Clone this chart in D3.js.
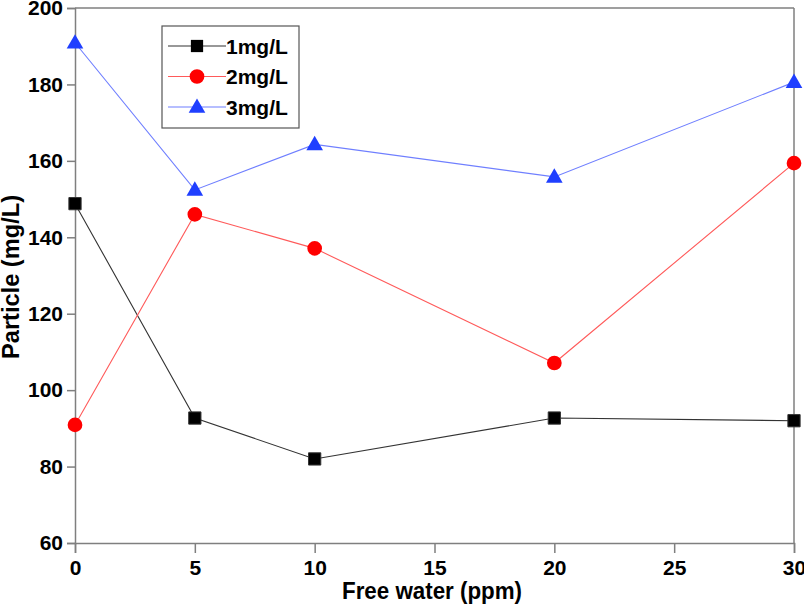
<!DOCTYPE html>
<html><head><meta charset="utf-8">
<script src="https://cdn.jsdelivr.net/npm/d3@7"></script>
<style>body{margin:0;background:#fff}</style>
</head><body>
<svg id="c" width="804" height="608"></svg>
<script>
const xValues = [0, 5, 10, 20, 30];
const series1 = [148.8, 92.7, 82.0, 92.7, 92.0];
const series2 = [90.9, 146.0, 137.1, 107.1, 159.4];
const series3 = [190.9, 152.4, 164.3, 155.8, 180.6];
const seriesNames = ["1mg/L", "2mg/L", "3mg/L"];
const xTicks = [0, 5, 10, 15, 20, 25, 30];
const yTicks = [60, 80, 100, 120, 140, 160, 180, 200];

const svg = d3.select("#c");
const L = 75, R = 794, T = 8, B = 543;
const x = d3.scaleLinear().domain([0, 30]).range([L, R]);
const y = d3.scaleLinear().domain([60, 200]).range([B, T]);
const font = "'Liberation Sans', Arial, sans-serif";
const frame = "#7f7f7f";

// axes
const xa = svg.append("g").attr("transform", `translate(0,${B})`)
  .call(d3.axisBottom(x).tickValues(xTicks).tickSize(10).tickPadding(7).tickFormat(d3.format("d")));
const ya = svg.append("g").attr("transform", `translate(${L},0)`)
  .call(d3.axisLeft(y).tickValues(yTicks).tickSize(8).tickPadding(4).tickFormat(d3.format("d")));
[xa, ya].forEach(a => {
  a.select(".domain").attr("stroke", frame).attr("stroke-width", 1.5);
  a.selectAll(".tick line").attr("stroke", frame).attr("stroke-width", 1.5);
  a.selectAll("text").attr("font-family", font).attr("font-weight", "bold")
    .attr("font-size", 21).attr("fill", "#000");
});
// top & right frame
svg.append("line").attr("x1", L).attr("x2", R).attr("y1", T).attr("y2", T).attr("stroke", frame).attr("stroke-width", 1.5);
svg.append("line").attr("x1", R).attr("x2", R).attr("y1", T).attr("y2", B).attr("stroke", frame).attr("stroke-width", 1.5);

// titles
svg.append("text").attr("x", 432).attr("y", 599).attr("text-anchor", "middle")
  .attr("font-family", font).attr("font-weight", "bold").attr("font-size", 23)
  .attr("textLength", 180).attr("lengthAdjust", "spacingAndGlyphs").text("Free water (ppm)");
svg.append("text").attr("transform", `translate(19,277) rotate(-90)`).attr("text-anchor", "middle")
  .attr("font-family", font).attr("font-weight", "bold").attr("font-size", 23)
  .attr("textLength", 164).attr("lengthAdjust", "spacingAndGlyphs").text("Particle (mg/L)");

const styles = [
  {data: series1, line: "#333333", fill: "#000000", sym: d3.symbolSquare, size: 150},
  {data: series2, line: "#ff5a5a", fill: "#ff0000", sym: d3.symbolCircle, size: 170},
  {data: series3, line: "#6f7fff", fill: "#1f3fff", sym: d3.symbolTriangle, size: 120}
];
const line = d3.line().x((d, i) => x(xValues[i])).y(d => y(d));
styles.forEach(s => {
  svg.append("path").datum(s.data).attr("d", line).attr("fill", "none")
    .attr("stroke", s.line).attr("stroke-width", 1.1);
  svg.selectAll(null).data(s.data).enter().append("path")
    .attr("d", d3.symbol().type(s.sym).size(s.size))
    .attr("transform", (d, i) => `translate(${x(xValues[i])},${y(d) + (s.sym === d3.symbolTriangle ? 1 : 0)})`)
    .attr("fill", s.fill).attr("stroke", s.fill === "#000000" ? "#333" : "none");
});

// legend
const lg = svg.append("g");
lg.append("rect").attr("x", 162).attr("y", 26).attr("width", 137).attr("height", 102)
  .attr("fill", "#fff").attr("stroke", "#555").attr("stroke-width", 1.2);
styles.forEach((s, i) => {
  const yy = 46 + i * 30.5;
  lg.append("line").attr("x1", 168).attr("x2", 226).attr("y1", yy).attr("y2", yy)
    .attr("stroke", s.line).attr("stroke-width", 1.1);
  lg.append("path").attr("d", d3.symbol().type(s.sym).size(s.size)())
    .attr("transform", `translate(197,${yy + (s.sym === d3.symbolTriangle ? 1 : 0)})`).attr("fill", s.fill);
  lg.append("text").attr("x", 226).attr("y", yy + 7.5).attr("font-family", font).attr("font-weight", "bold")
    .attr("font-size", 21).text(seriesNames[i]);
});
</script>
</body></html>
